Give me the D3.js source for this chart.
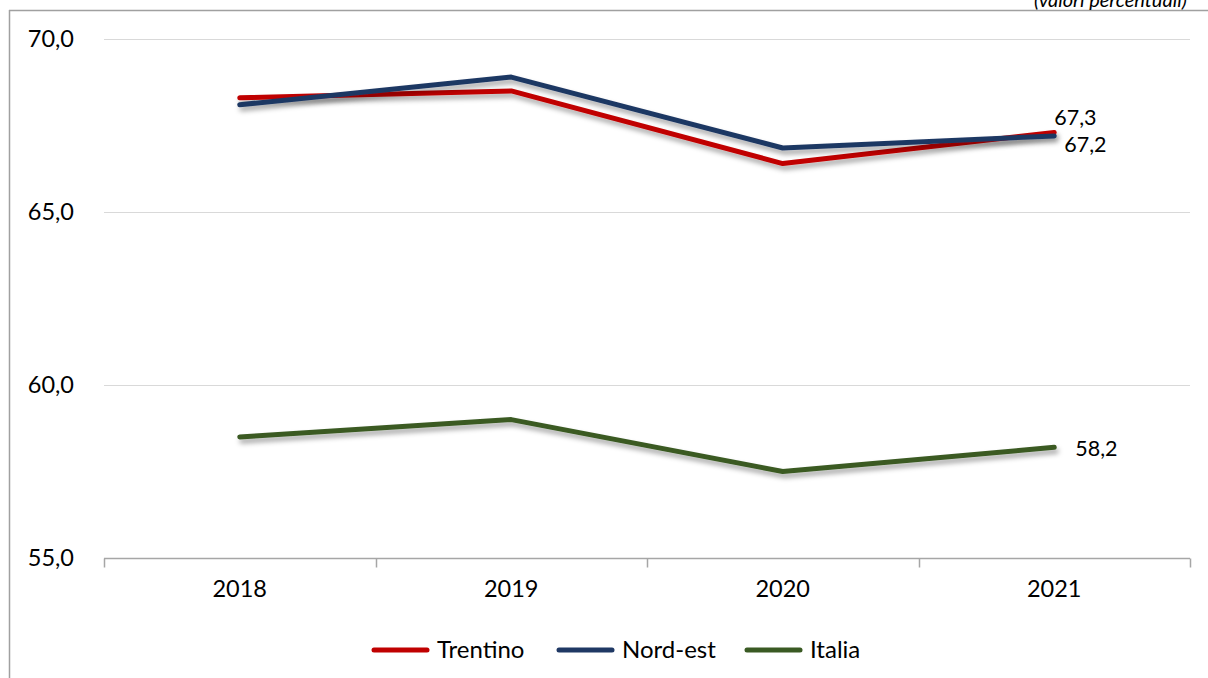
<!DOCTYPE html>
<html>
<head>
<meta charset="utf-8">
<script src="https://cdn.jsdelivr.net/npm/d3@7"></script>
<style>
  body { margin: 0; background: #fff; }
  svg text { font-family: Lato, "Open Sans", sans-serif; fill: #000; }
</style>
</head>
<body>
<script>
var years    = ["2018", "2019", "2020", "2021"];
var trentino = [68.3, 68.5, 66.4, 67.3];
var nordEst  = [68.1, 68.9, 66.85, 67.2];
var italia   = [58.5, 59.0, 57.5, 58.2];
var yTicks   = [55, 60, 65, 70];

var seriesNames  = ["Trentino", "Nord-est", "Italia"];
var seriesValues = [trentino, nordEst, italia];
var seriesColors = ["#c00000", "#1f3864", "#3a5a23"];

var width  = 1208;
var height = 678;

var svg = d3.select("body").append("svg").attr("width", width).attr("height", height);

// drop shadow like in the office chart
var defs = svg.append("defs");
var f = defs.append("filter").attr("id", "shadow").attr("x", "-10%").attr("y", "-50%").attr("width", "120%").attr("height", "200%");
f.append("feDropShadow").attr("dx", 2).attr("dy", 4).attr("stdDeviation", 2.5)
  .attr("flood-color", "#000").attr("flood-opacity", 0.35);

// outer frame (left and top only visible)
svg.append("line").attr("x1", 9.5).attr("x2", 9.5).attr("y1", 10).attr("y2", height).attr("stroke", "#a0a0a0").attr("stroke-width", 1.5);
svg.append("line").attr("x1", 9).attr("x2", width).attr("y1", 10.5).attr("y2", 10.5).attr("stroke", "#a0a0a0").attr("stroke-width", 1.5);

svg.append("text").attr("x", 1034).attr("y", 7).attr("font-size", 20).attr("font-style", "italic").text("(valori percentuali)");

var x = d3.scaleBand().domain(years).range([104, 1190]);
var y = d3.scaleLinear().domain([55, 70]).range([558, 39]);

// gridlines
svg.append("g").selectAll("line").data(yTicks.filter(function(t){ return t > 55; })).join("line")
  .attr("x1", 104).attr("x2", 1190)
  .attr("y1", function(d){ return Math.round(y(d)) + 0.5; })
  .attr("y2", function(d){ return Math.round(y(d)) + 0.5; })
  .attr("stroke", "#d9d9d9").attr("stroke-width", 1);

// y labels
svg.append("g").selectAll("text").data(yTicks).join("text")
  .attr("x", 74).attr("y", function(d){ return y(d); })
  .attr("dy", "0.35em").attr("text-anchor", "end").attr("font-size", 23.5)
  .text(function(d){ return d.toFixed(1).replace(".", ","); });

// x axis
var xAxis = svg.append("g").attr("transform", "translate(0," + (Math.round(y(55)) + 0.5) + ")");
xAxis.append("line").attr("x1", 104).attr("x2", 1190).attr("stroke", "#a6a6a6").attr("stroke-width", 1.5);
var bounds = years.map(function(d){ return x(d); }).concat([x.range()[1]]);
xAxis.selectAll("line.tick").data(bounds).join("line").attr("class", "tick")
  .attr("x1", function(d){ return Math.round(d) + 0.5; }).attr("x2", function(d){ return Math.round(d) + 0.5; })
  .attr("y1", 0).attr("y2", 9).attr("stroke", "#a6a6a6").attr("stroke-width", 1.5);
xAxis.selectAll("text").data(years).join("text")
  .attr("x", function(d){ return x(d) + x.bandwidth() / 2; }).attr("y", 38)
  .attr("text-anchor", "middle").attr("font-size", 23.5).text(function(d){ return d; });

// lines
var line = d3.line()
  .x(function(d, i){ return x(years[i]) + x.bandwidth() / 2; })
  .y(function(d){ return y(d); });

// draw Italia, Trentino first then Nord-est on top
[2, 0, 1].forEach(function(k){
  svg.append("path").datum(seriesValues[k])
    .attr("d", line).attr("fill", "none")
    .attr("stroke", seriesColors[k]).attr("stroke-width", 5)
    .attr("stroke-linejoin", "round").attr("stroke-linecap", "round")
    .attr("filter", "url(#shadow)");
});

// end labels
var labelOffsets = [[0, -15], [10, 9], [21, 1]];
seriesValues.forEach(function(vals, k){
  var last = vals.length - 1;
  svg.append("text")
    .attr("x", x(years[last]) + x.bandwidth() / 2 + labelOffsets[k][0])
    .attr("y", y(vals[last]) + labelOffsets[k][1])
    .attr("dy", "0.35em").attr("font-size", 21.5)
    .text(vals[last].toFixed(1).replace(".", ","));
});

// legend
var legendX = [372, 557, 745];
var lg = svg.append("g").selectAll("g").data(seriesNames).join("g")
  .attr("transform", function(d, i){ return "translate(" + legendX[i] + ",650)"; });
lg.append("line").attr("x1", 2).attr("x2", 55).attr("stroke", function(d, i){ return seriesColors[i]; })
  .attr("stroke-width", 5).attr("stroke-linecap", "round");
lg.append("text").attr("x", 65).attr("dy", "0.35em").attr("font-size", 24).text(function(d){ return d; });
</script>
</body>
</html>
